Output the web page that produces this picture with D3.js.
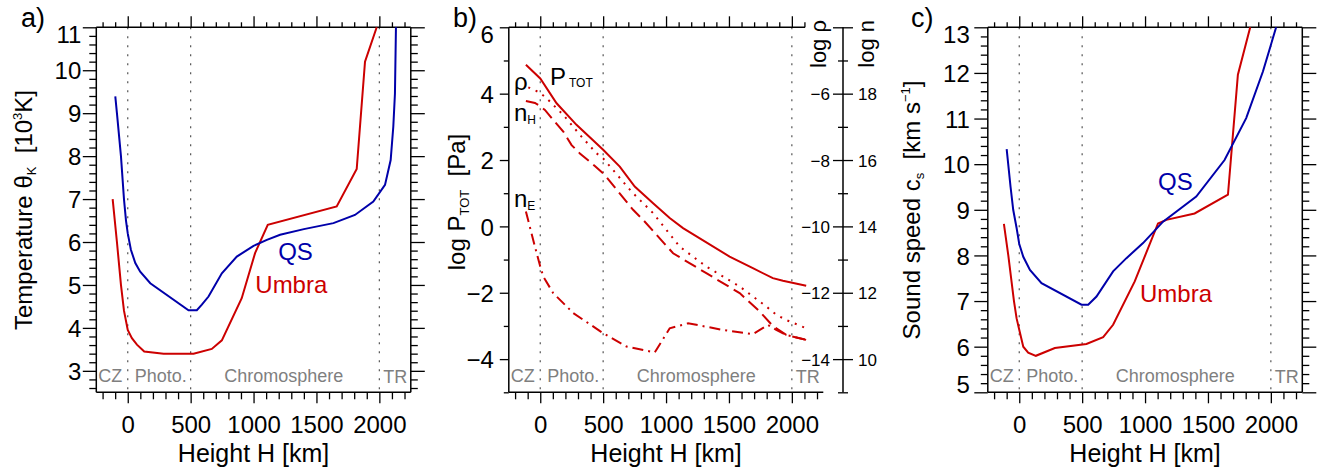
<!DOCTYPE html>
<html>
<head>
<meta charset="utf-8">
<script src="https://cdn.jsdelivr.net/npm/d3@7"></script>
<style>
body { margin: 0; background: #fff; }
svg { display: block; font-family: "Liberation Sans", Arial, Helvetica, sans-serif; }
</style>
</head>
<body>
<svg width="1327" height="471"></svg>
<script>
// ---- data (height in km) ----
// a) temperature, 10^3 K
var tempQsH = [-99, -86, -54, -30, -14, 0, 25, 60, 99, 179, 483, 549, 589, 642, 748, 867, 1000, 1106, 1211, 1400, 1635, 1806, 1952, 2045, 2090, 2111, 2124, 2132];
var tempQs  = [9.39, 9.0, 8.0, 7.0, 6.5, 6.2, 5.82, 5.51, 5.31, 5.04, 4.41, 4.41, 4.54, 4.73, 5.27, 5.66, 5.91, 6.05, 6.17, 6.30, 6.44, 6.63, 6.94, 7.33, 7.91, 8.69, 9.46, 11.0];
var tempUmH = [-120, -86, -54, -30, 0, 33, 73, 131, 285, 523, 668, 748, 906, 1012, 1113, 1661, 1820, 1886, 1979];
var tempUm  = [7.0, 6.0, 5.0, 4.4, 3.95, 3.76, 3.61, 3.45, 3.40, 3.40, 3.51, 3.71, 4.69, 5.74, 6.40, 6.83, 7.70, 10.2, 11.0];

// b) log pressure / density / number densities (on log P axis)
var presH  = [-114, 0, 130, 288, 500, 632, 751, 897, 1029, 1135, 1505, 1690, 1849, 1929, 2114];
var presP  = [4.87, 4.46, 3.71, 3.06, 2.31, 1.80, 1.20, 0.70, 0.25, -0.05, -0.91, -1.26, -1.56, -1.64, -1.79];
var rhoH   = [-95, -8, 51, 183, 315, 448, 500, 601, 725, 897, 1108, 1320, 1585, 1796, 1876, 1955, 2114];
var rho    = [4.19, 4.04, 3.86, 3.36, 2.76, 2.20, 2.05, 1.60, 1.05, 0.40, -0.61, -1.21, -1.81, -2.41, -2.66, -2.82, -3.07];
var nHH    = [-114, -42, 0, 37, 103, 183, 249, 315, 434, 513, 738, 817, 1056, 1320, 1585, 1743, 1849, 1955, 2114];
var nH     = [3.78, 3.72, 3.62, 3.51, 3.21, 2.86, 2.45, 2.20, 1.82, 1.55, 0.50, 0.20, -0.81, -1.41, -2.01, -2.56, -3.0, -3.27, -3.42];
var nEH    = [-114, -56, 0, 24, 103, 262, 500, 685, 910, 1029, 1175, 1452, 1690, 1810, 1876, 1955, 2114];
var nE     = [0.45, -0.41, -1.21, -1.51, -2.01, -2.61, -3.22, -3.62, -3.80, -3.07, -2.92, -3.12, -3.25, -2.97, -3.12, -3.27, -3.42];

// c) sound speed, km/s
var csQsH = [-100, -69, -48, -21, 0, 32, 85, 177, 495, 548, 614, 746, 852, 984, 1143, 1407, 1632, 1804, 1937, 2042];
var csQs  = [10.33, 9.5, 9.0, 8.6, 8.25, 7.97, 7.68, 7.39, 6.92, 6.92, 7.10, 7.65, 7.94, 8.27, 8.74, 9.29, 10.09, 11.01, 12.03, 13.0];
var csUmH = [-122, -87, -42, -21, 0, 32, 71, 132, 283, 534, 667, 746, 918, 1103, 1169, 1394, 1659, 1738, 1836];
var csUm  = [8.69, 8.0, 7.0, 6.62, 6.37, 6.0, 5.87, 5.80, 5.97, 6.06, 6.21, 6.48, 7.43, 8.70, 8.78, 8.92, 9.33, 11.96, 13.0];

var heightTicks = d3.range(-200, 2201, 100);
var heightMajor = [0, 500, 1000, 1500, 2000];
var regionLines = [0, 500, 2000];

var RED = '#cc0000', BLUE = '#0000aa', GREY = '#7f7f7f';
var Y0 = 392.3, Y1 = 27.3;
var fmt = d3.format('d');

var svg = d3.select('svg');

function clean(s) {
    s.attr('font-family', null).attr('font-size', null);
    s.select('.domain').remove();
    s.selectAll('line').attr('stroke', '#000').attr('stroke-width', 1.3);
}

function fracTicks(lo, hi) {
    // minor ticks every 0.2, skipping integers
    return d3.range(Math.round(lo * 5), Math.round(hi * 5) + 1)
        .filter(function(i) { return i % 5 !== 0; })
        .map(function(i) { return i / 5; });
}

function panel(p) {
    var g = svg.append('g');
    var x = d3.scaleLinear().domain([-250, 2250]).range([p.left, p.left + 314.5]);
    var y = d3.scaleLinear().domain(p.yDomain).range([Y0, Y1]);
    var xl = x.range()[0], xr = x.range()[1];

    // dotted region separators
    g.selectAll('.sep').data(regionLines).enter().append('line')
        .attr('x1', function(d) { return x(d); }).attr('x2', function(d) { return x(d); })
        .attr('y1', Y1).attr('y2', Y0)
        .attr('stroke', '#555').attr('stroke-width', 1.2).attr('stroke-dasharray', '2,7');

    // region names
    var reg = g.append('g').attr('fill', GREY).style('font-size', '18px');
    reg.append('text').attr('x', xl + 2).attr('y', Y0 - 10).text('CZ');
    reg.append('text').attr('x', x(0) + 7).attr('y', Y0 - 10).text('Photo.');
    reg.append('text').attr('x', x(1240)).attr('y', Y0 - 10).attr('text-anchor', 'middle').text('Chromosphere');
    reg.append('text').attr('x', x(2000) + 4).attr('y', Y0 - 9).text('TR');

    // bottom axis
    var minorH = heightTicks.filter(function(h) { return heightMajor.indexOf(h) < 0; });
    var gb = g.append('g').attr('transform', 'translate(0,' + Y0 + ')');
    gb.append('g').call(d3.axisBottom(x).tickValues(minorH).tickSize(7).tickFormat('')).call(clean);
    gb.append('g').call(d3.axisBottom(x).tickValues(heightMajor).tickSize(11).tickFormat(fmt)).call(clean)
        .selectAll('text').attr('y', 41).attr('dy', 0).style('font-size', '24px');

    // top axis
    var topMax = p.topMax || 2200;
    var gt = g.append('g').attr('transform', 'translate(0,' + Y1 + ')');
    gt.append('g').call(d3.axisTop(x).tickValues(minorH.filter(function(h) { return h <= topMax; })).tickSize(5).tickFormat('')).call(clean);
    gt.append('g').call(d3.axisTop(x).tickValues(heightMajor).tickSize(11).tickFormat('')).call(clean);

    // left axis
    var gl = g.append('g').attr('transform', 'translate(' + xl + ',0)');
    gl.append('g').call(d3.axisLeft(y).tickValues(p.yMinor).tickSize(p.minorLen).tickFormat('')).call(clean);
    gl.append('g').call(d3.axisLeft(y).tickValues(p.yMajor).tickSize(p.majorLen).tickFormat(fmt)).call(clean)
        .selectAll('text').style('font-size', '24px').attr('x', -p.labelGap).attr('dy', '0.36em');
    gl.selectAll('text').filter(function(d) { return d === p.yDomain[1]; }).attr('y', 7);
    gl.selectAll('text').filter(function(d) { return d === p.yDomain[0]; }).attr('y', -8);

    // right axis
    if (p.rightTicks) {
        var gr = g.append('g').attr('transform', 'translate(' + xr + ',0)');
        gr.append('g').call(d3.axisRight(y).tickValues(p.yMinor).tickSize(7).tickFormat('')).call(clean);
        gr.append('g').call(d3.axisRight(y).tickValues(p.yMajor).tickSize(14).tickFormat('')).call(clean);
    }

    // frame
    var fr = g.append('g').attr('stroke', '#000').attr('stroke-width', 1.5);
    fr.append('line').attr('x1', xl).attr('x2', xl).attr('y1', Y1).attr('y2', Y0);
    fr.append('line').attr('x1', xl).attr('x2', xr).attr('y1', Y0).attr('y2', Y0);
    fr.append('line').attr('x1', xl).attr('x2', p.topEnd ? x(p.topEnd) : xr).attr('y1', Y1).attr('y2', Y1);
    if (p.rightTicks) fr.append('line').attr('x1', xr).attr('x2', xr).attr('y1', Y1).attr('y2', Y0);

    // axis titles
    g.append('text').attr('x', (xl + xr) / 2).attr('y', 462).attr('text-anchor', 'middle')
        .style('font-size', '25px').text('Height H [km]');
    g.append('text').attr('x', p.letterX).attr('y', 27).style('font-size', '27px').text(p.letter);

    var yt = g.append('text').attr('transform', 'translate(' + p.titleX + ',' + p.titleY + ') rotate(-90)')
        .attr('text-anchor', 'middle').style('font-size', '24px');
    p.title.forEach(function(part) {
        var t = yt.append('tspan').text(part[0]);
        if (part[1] === 'sub') t.style('font-size', '13px').attr('dy', 4);
        if (part[1] === 'sup') t.style('font-size', '13px').attr('dy', -10);
        if (part[1] === 'back') t.attr('dy', part[2]);
    });

    return { g: g, x: x, y: y };
}

function curve(P, hs, vs, color, dash) {
    var line = d3.line().x(function(d) { return P.x(d[0]); }).y(function(d) { return P.y(d[1]); });
    P.g.append('path').datum(d3.zip(hs, vs)).attr('d', line)
        .attr('fill', 'none').attr('stroke', color).attr('stroke-width', 2)
        .attr('stroke-dasharray', dash || null);
}

function label(P, h, v, txt, color, size) {
    return P.g.append('text').attr('x', P.x(h)).attr('y', P.y(v)).attr('fill', color)
        .style('font-size', (size || 24) + 'px').text(txt);
}

// ---- panel a ----
var A = panel({
    left: 96.3, yDomain: [2.5, 11], yMajor: d3.range(3, 12),
    yMinor: fracTicks(2.6, 10.8), majorLen: 13.5, minorLen: 7, labelGap: 15,
    rightTicks: true, letter: 'a)', letterX: 21,
    titleX: 31.5, titleY: 210,
    title: [['Temperature θ'], ['K', 'sub'], ['\u00a0\u00a0[10', 'back', -4], ['3', 'sup'], ['K]', 'back', 10]]
});
curve(A, tempUmH, tempUm, RED);
curve(A, tempQsH, tempQs, BLUE);
label(A, 1196, 5.58, 'QS', BLUE);
label(A, 1014, 4.82, 'Umbra', RED);

// ---- panel b ----
var B = panel({
    left: 508.8, yDomain: [-5, 6], yMajor: [-4, -2, 0, 2, 4, 6],
    yMinor: [-5, -3, -1, 1, 3, 5], majorLen: 9, minorLen: 5, labelGap: 15,
    rightTicks: false, topMax: 2100, topEnd: 2105, letter: 'b)', letterX: 453,
    titleX: 465, titleY: 202,
    title: [['log P'], ['TOT', 'sub'], ['\u00a0\u00a0[Pa]', 'back', -4]]
});
curve(B, presH, presP, RED);
curve(B, rhoH, rho, RED, '2,6');
curve(B, nHH, nH, RED, '13,6');
curve(B, nEH, nE, RED, '11,5,2,5');

var pt = label(B, 77, 4.26, 'P', '#000');
pt.append('tspan').attr('dx', 3).attr('dy', 2).style('font-size', '12px').text('TOT');
label(B, -209, 4.11, 'ρ', '#000');
var nh = label(B, -209, 3.19, 'n', '#000');
nh.append('tspan').attr('dy', 3).style('font-size', '12px').text('H');
var ne = label(B, -209, 0.59, 'n', '#000');
ne.append('tspan').attr('dy', 3).style('font-size', '12px').text('E');

// secondary axis: log rho = log P - 10, log n = log P + 14
var axisX = 843;
var ga = B.g.append('g').attr('transform', 'translate(' + axisX + ',0)');
ga.append('g').call(d3.axisLeft(B.y).tickValues([-5, -3, -1, 1, 3, 5]).tickSize(5).tickFormat('')).call(clean);
ga.append('g').call(d3.axisRight(B.y).tickValues([-5, -3, -1, 1, 3, 5]).tickSize(5).tickFormat('')).call(clean);
ga.append('g').call(d3.axisLeft(B.y).tickValues([-4, -2, 0, 2, 4, 6]).tickSize(10)
        .tickFormat(function(d) { return d === 6 ? '' : fmt(d - 10); })).call(clean)
    .selectAll('text').style('font-size', '17px').attr('x', -13).attr('dy', '0.36em');
ga.append('g').call(d3.axisRight(B.y).tickValues([-4, -2, 0, 2, 4, 6]).tickSize(10)
        .tickFormat(function(d) { return d === 6 ? '' : fmt(d + 14); })).call(clean)
    .selectAll('text').style('font-size', '17px').attr('x', 15).attr('dy', '0.36em');
ga.append('line').attr('x1', 0).attr('x2', 0).attr('y1', Y1).attr('y2', Y0)
    .attr('stroke', '#000').attr('stroke-width', 1.5);
B.g.append('text').attr('transform', 'translate(825.5,20) rotate(-90)').attr('text-anchor', 'end')
    .style('font-size', '22px').text('log ρ');
B.g.append('text').attr('transform', 'translate(873.5,20) rotate(-90)').attr('text-anchor', 'end')
    .style('font-size', '22px').text('log n');

// ---- panel c ----
var C = panel({
    left: 987.8, yDomain: [5, 13], yMajor: d3.range(5, 14),
    yMinor: fracTicks(5.2, 12.8), majorLen: 13.5, minorLen: 7, labelGap: 18,
    rightTicks: true, letter: 'c)', letterX: 911,
    titleX: 920, titleY: 210,
    title: [['Sound speed c'], ['s', 'sub'], ['\u00a0\u00a0[km s', 'back', -4], ['−1', 'sup'], [']', 'back', 10]]
});
curve(C, csUmH, csUm, RED);
curve(C, csQsH, csQs, BLUE);
label(C, 1103, 9.43, 'QS', BLUE);
label(C, 960, 6.99, 'Umbra', RED);
</script>
</body>
</html>
